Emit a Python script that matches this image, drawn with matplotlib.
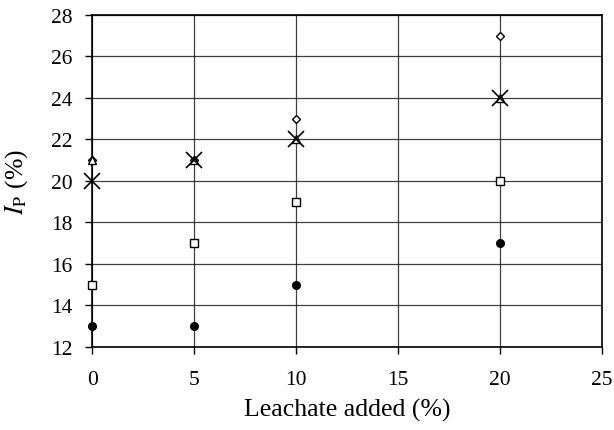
import matplotlib
matplotlib.use("Agg")
import matplotlib.pyplot as plt
import numpy as np

plt.rcParams['font.family'] = ['Liberation Serif', 'DejaVu Serif']
plt.rcParams['mathtext.fontset'] = 'stix'

leachate = [0, 5, 10, 20]
diamond = [21, 21, 23, 27]
triangle = [21, 21, 22, 24]
cross = [20, 21, 22, 24]
square = [15, 17, 19, 20]
circle = [13, 13, 15, 17]

fig, ax = plt.subplots(figsize=(6.14, 4.31), dpi=100)
plt.subplots_adjust(left=0.150, right=0.980, top=0.963, bottom=0.193)

kw = dict(ls="none", clip_on=False)
ax.plot(leachate, diamond, marker="D", ms=4.3, mfc="white", mec="black", mew=1, zorder=3, **kw)
ax.plot(leachate, triangle, marker="^", ms=6, mfc="white", mec="black", mew=1, zorder=3, **kw)
ax.plot(leachate, cross, marker="x", ms=11, color="black", mew=1.2, zorder=4, **kw)
ax.plot(leachate, square, marker="s", ms=5.3, mfc="white", mec="black", mew=1, zorder=3, **kw)
ax.plot(leachate, circle, marker="o", ms=5.5, color="black", zorder=3, **kw)

ax.set_xlim(0, 25)
ax.set_ylim(12, 28)
ax.set_xticks(np.arange(0, 26, 5))
ax.set_yticks(np.arange(12, 29, 2))
ax.grid(True, color="black", lw=0.9, alpha=0.75)
ax.set_axisbelow(True)
for s in ax.spines.values():
    s.set_linewidth(1.2)
ax.tick_params(direction="out", length=5, width=1, labelsize=15.5)
ax.tick_params(axis="x", pad=12)
ax.tick_params(axis="y", pad=9)
ax.set_xlabel("Leachate added (%)", fontsize=18.5, labelpad=6)
ax.set_ylabel(r"$I_{\mathrm{P}}$ (%)", fontsize=18.5, labelpad=15)

fig.savefig("out.png", dpi=100)
